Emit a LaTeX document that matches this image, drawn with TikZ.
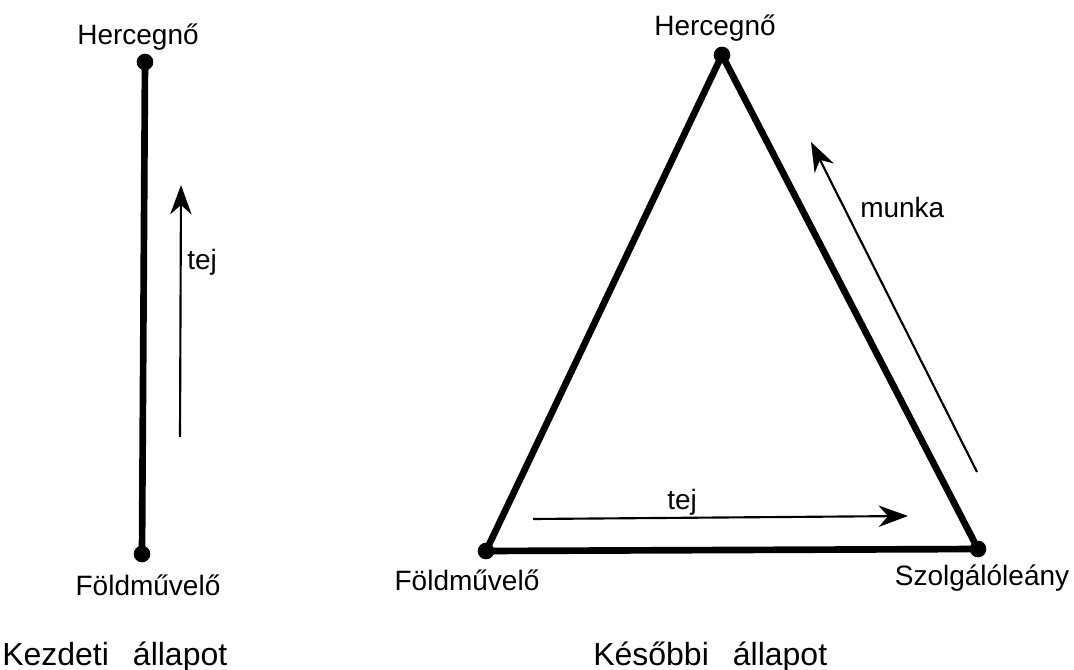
\documentclass[tikz,border=0pt]{standalone}
\usepackage{fontspec}
\setmainfont{Liberation Sans}
\usetikzlibrary{arrows.meta}
\begin{document}
\begin{tikzpicture}[x=0.75pt,y=-0.75pt,
  lbl/.style={font=\fontsize{21}{24}\selectfont, inner sep=0pt, anchor=base},
  lblw/.style={font=\fontsize{21}{24}\selectfont, inner sep=0pt, anchor=base west},
  ttl/.style={font=\fontsize{24}{28}\selectfont, inner sep=0pt, anchor=base west},
  thick edge/.style={line width=5pt, line join=round, line cap=round},
  flow/.style={line width=1.6pt, -{Stealth[length=22pt,width=16pt,inset=7pt]}},
  dot/.style={circle, fill=black, inner sep=0pt, minimum size=12.5pt}]
\useasboundingbox (0,0) rectangle (1074,670);
% left diagram
\node[dot] (lh) at (145,62) {};
\node[dot] (lf) at (142,554) {};
\draw[thick edge] (lh.center) -- (lf.center);
\coordinate (la0) at (180,437);
\coordinate (la1) at (181,185);
\draw[flow] (la0) -- (la1);
\node[lbl] (lhl) at (138,45) {Hercegnő};
\node[lbl] (lfl) at (148,595) {Földművelő};
\node[lblw] (ltej) at (187,270) {tej};
\node[ttl] (ltitle) at (2,665) {Kezdeti\hspace{18pt}állapot};
% right diagram
\node[dot] (rh) at (722,55) {};
\node[dot] (rf) at (486,551) {};
\node[dot] (rs) at (978,549) {};
\draw[thick edge] (rh.center) -- (rf.center) -- (rs.center) -- cycle;
\coordinate (m0) at (977,472);
\coordinate (m1) at (811,142);
\draw[flow] (m0) -- (m1);
\coordinate (t0) at (533,519);
\coordinate (t1) at (908,516);
\draw[flow] (t0) -- (t1);
\node[lbl] (rhl) at (715,36) {Hercegnő};
\node[lbl] (rfl) at (467,590) {Földművelő};
\node[lbl] (rsl) at (982,585) {Szolgálóleány};
\node[lblw] (munka) at (860,218) {munka};
\node[lblw] (rtej) at (667,509) {tej};
\node[ttl] (rtitle) at (593,665) {Későbbi\hspace{18pt}állapot};
\end{tikzpicture}
\end{document}
